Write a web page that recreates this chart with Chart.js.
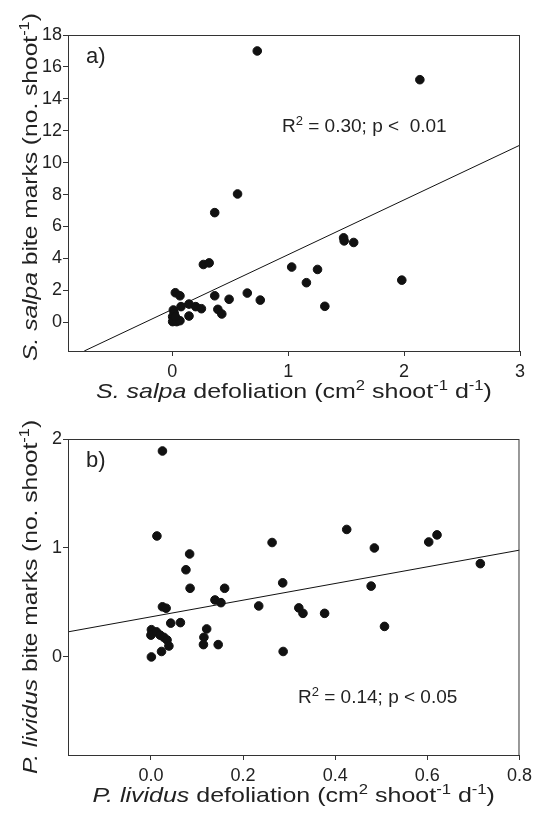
<!DOCTYPE html>
<html>
<head>
<meta charset="utf-8">
<script src="https://cdn.jsdelivr.net/npm/chart.js@4"></script>
<style>
  body { margin: 0; background: #fff; }
  .panel { position: absolute; left: 0; width: 537px; height: 407px; }
</style>
</head>
<body>
<div class="panel" style="top:0"><canvas id="chartA" width="537" height="407"></canvas></div>
<div class="panel" style="top:407px"><canvas id="chartB" width="537" height="407"></canvas></div>
<script>
// panel a - S. salpa
const salpaDefol = [0.733, 2.136, 0.563, 0.366, 0.268, 0.318, 1.478, 1.483, 1.565, 1.03, 1.253, 1.157, 1.98, 1.316,
  0.026, 0.066, 0.366, 0.647, 0.49, 0.759, 0.144, 0.202, 0.251, 0.075, 0.393, 0.427, 0.144,
  0.009, 0.017, 0.003, 0.003, 0.038, 0.066, 0.026];
const salpaBites = [17.0, 15.2, 8.04, 6.87, 3.62, 3.72, 5.29, 5.10, 5.0, 3.46, 3.31, 2.48, 2.64, 1.0,
  1.85, 1.66, 1.66, 1.83, 1.44, 1.39, 1.14, 0.98, 0.85, 0.98, 0.81, 0.52, 0.39,
  0.77, 0.56, 0.35, 0.04, 0.04, 0.1, 0.35];
const salpaFitX = [-0.76, 3];
const salpaFitY = [-1.8, 11.1];
const salpaXTicks = [0, 1, 2, 3];
const salpaYTicks = [0, 2, 4, 6, 8, 10, 12, 14, 16, 18];

// panel b - P. lividus
const lividDefol = [0.025, 0.013, 0.425, 0.263, 0.485, 0.603, 0.621, 0.084, 0.076, 0.715, 0.085, 0.16, 0.286, 0.478,
  0.139, 0.152, 0.025, 0.033, 0.234, 0.321, 0.33, 0.377, 0.507, 0.287, 0.043, 0.064, 0.121, 0.115,
  0.114, 0.146, 0.001, 0.0, 0.012, 0.02, 0.028, 0.035, 0.039, 0.023, 0.001];
const lividBites = [1.89, 1.11, 1.17, 1.05, 1.0, 1.055, 1.12, 0.945, 0.80, 0.856, 0.63, 0.63, 0.68, 0.65,
  0.523, 0.498, 0.46, 0.447, 0.468, 0.45, 0.40, 0.40, 0.28, 0.05, 0.31, 0.315, 0.257, 0.18,
  0.113, 0.113, 0.25, 0.2, 0.23, 0.2, 0.18, 0.156, 0.1, 0.05, 0.0];
const lividFitX = [-0.18, 0.8];
const lividFitY = [0.23, 0.98];
const lividXTicks = [0, 0.2, 0.4, 0.6, 0.8];
const lividYTicks = [0, 1, 2];

const FONT = '"Liberation Sans", Arial, Helvetica, sans-serif';
const INK = '#222';
const AXIS = '#333';

// draws a row of text pieces: [text, flags] with i = italic, s = superscript
// stretch widens the glyphs (the axis titles in the figure are set wide)
function drawRich(ctx, segs, x, y, size, stretch, align, rotate) {
  ctx.save();
  ctx.translate(x, y);
  if (rotate) ctx.rotate(-Math.PI / 2);
  ctx.scale(stretch, 1);
  const font = f => (f.includes('i') ? 'italic ' : '') + (f.includes('s') ? Math.round(size * 0.66) : size) + 'px ' + FONT;
  let w = 0;
  segs.forEach(([t, f]) => { ctx.font = font(f); w += ctx.measureText(t).width; });
  let cx = align === 'center' ? -w / 2 : 0;
  ctx.textBaseline = 'alphabetic';
  ctx.textAlign = 'left';
  ctx.fillStyle = INK;
  segs.forEach(([t, f]) => {
    ctx.font = font(f);
    ctx.fillText(t, cx, f.includes('s') ? -size * 0.36 : 0);
    cx += ctx.measureText(t).width;
  });
  ctx.restore();
}

function makeChart(id, p) {
  const labels = {
    id: 'labels',
    afterDraw(chart) {
      const ctx = chart.ctx, a = chart.chartArea;
      ctx.save();
      ctx.strokeStyle = AXIS;
      ctx.lineWidth = 1;
      ctx.strokeRect(a.left + 0.5, a.top + 0.5, a.right - a.left - 1, a.bottom - a.top);
      ctx.restore();
      drawRich(ctx, [[p.letter, '']], a.left + 18, a.top + 28, 22, 1, 'left');
      drawRich(ctx, p.stat, p.statX, p.statY, 19, 1, 'left');
      drawRich(ctx, p.xTitle, (a.left + a.right) / 2, p.xTitleY, 21, 1.19, 'center');
      drawRich(ctx, p.yTitle, 37, p.yTitleMid, 21, 1.17, 'center', true);
    }
  };

  return new Chart(document.getElementById(id), {
    type: 'scatter',
    data: {
      datasets: [{
        data: p.xs.map((x, i) => ({ x: x, y: p.ys[i] })),
        backgroundColor: '#111',
        borderColor: '#111',
        pointRadius: 4.3,
        pointHoverRadius: 4.3
      }, {
        type: 'line',
        data: p.fitX.map((x, i) => ({ x: x, y: p.fitY[i] })),
        borderColor: '#111',
        borderWidth: 1,
        pointRadius: 0,
        fill: false
      }]
    },
    options: {
      responsive: false,
      animation: false,
      layout: { padding: { left: 0, top: p.top, right: 17, bottom: 0 } },
      plugins: { legend: { display: false }, tooltip: { enabled: false } },
      scales: {
        x: {
          type: 'linear',
          min: p.xMin, max: p.xMax,
          afterBuildTicks: s => { s.ticks = p.xTicks.map(v => ({ value: v })); },
          afterFit: s => { s.height = p.xAxisH; },
          grid: { drawOnChartArea: false, drawTicks: true, tickLength: 5, color: AXIS },
          border: { display: true, color: AXIS, width: 1 },
          ticks: {
            color: INK, padding: 5, maxRotation: 0,
            font: { family: FONT, size: 18 },
            callback: p.xFmt
          }
        },
        y: {
          type: 'linear',
          min: p.yMin, max: p.yMax,
          afterBuildTicks: s => { s.ticks = p.yTicks.map(v => ({ value: v })); },
          afterFit: s => { s.width = 68; },
          grid: { drawOnChartArea: false, drawTicks: true, tickLength: 5, color: AXIS },
          border: { display: true, color: AXIS, width: 1 },
          ticks: { color: INK, padding: 1, font: { family: FONT, size: 18 } }
        }
      }
    },
    plugins: [labels]
  });
}

makeChart('chartA', {
  xs: salpaDefol, ys: salpaBites, fitX: salpaFitX, fitY: salpaFitY,
  xMin: -0.9, xMax: 3, yMin: -1.8, yMax: 18,
  xTicks: salpaXTicks, yTicks: salpaYTicks,
  xFmt: v => String(v),
  top: 35, xAxisH: 56,
  letter: 'a)',
  stat: [['R', ''], ['2', 's'], [' = 0.30; p <  0.01', '']], statX: 282, statY: 132,
  xTitle: [['S. salpa', 'i'], [' defoliation (cm', ''], ['2', 's'], [' shoot', ''], ['-1', 's'], [' d', ''], ['-1', 's'], [')', '']],
  xTitleY: 398,
  yTitle: [['S. salpa', 'i'], [' bite marks (no. shoot', ''], ['-1', 's'], [')', '']],
  yTitleMid: 187
});

makeChart('chartB', {
  xs: lividDefol, ys: lividBites, fitX: lividFitX, fitY: lividFitY,
  xMin: -0.18, xMax: 0.8, yMin: -0.9, yMax: 2,
  xTicks: lividXTicks, yTicks: lividYTicks,
  xFmt: v => v.toFixed(1),
  top: 32, xAxisH: 59,
  letter: 'b)',
  stat: [['R', ''], ['2', 's'], [' = 0.14; p < 0.05', '']], statX: 298, statY: 296,
  xTitle: [['P. lividus', 'i'], [' defoliation (cm', ''], ['2', 's'], [' shoot', ''], ['-1', 's'], [' d', ''], ['-1', 's'], [')', '']],
  xTitleY: 395,
  yTitle: [['P. lividus', 'i'], [' bite marks (no. shoot', ''], ['-1', 's'], [')', '']],
  yTitleMid: 190
});
</script>
</body>
</html>
